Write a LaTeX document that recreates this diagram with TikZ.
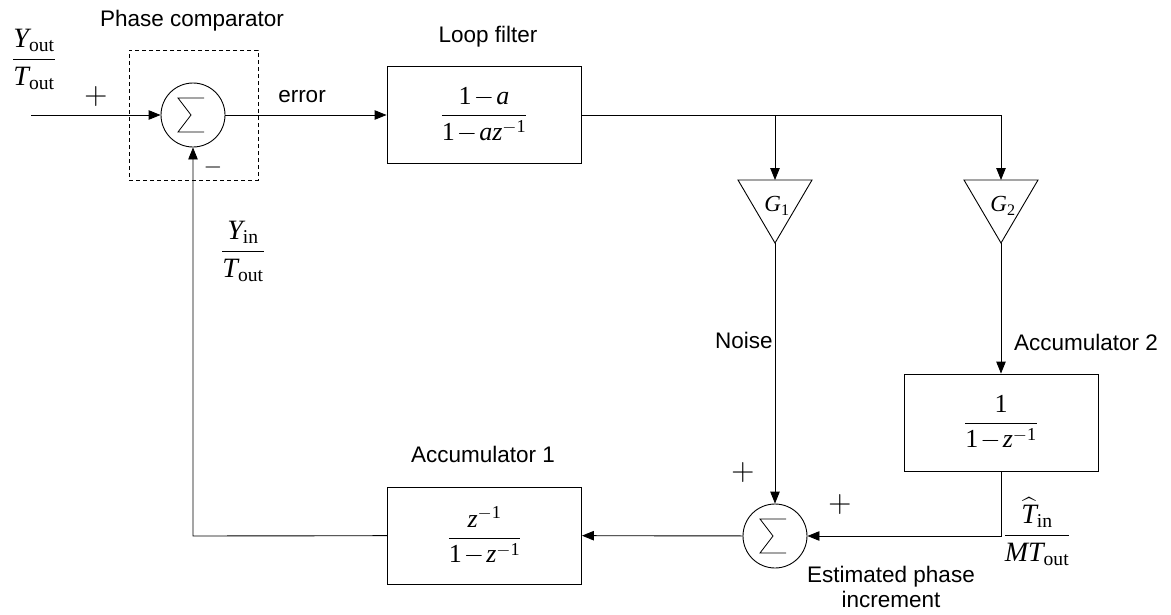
\RequirePackage{fix-cm}
\documentclass[tikz,border=0pt]{standalone}
\usepackage{fontspec}
\usepackage{amsmath}
\setmainfont{Liberation Sans}
\newfontfamily\tmr{Liberation Serif}
\newcommand\vi[1]{\text{\tmr\itshape #1}}
\newcommand\vr[1]{\text{\tmr #1}}
\newcommand\tightbin{\medmuskip=1.5mu\relax}
\usetikzlibrary{arrows.meta,calc}
\tikzset{
  wire/.style={line width=0.9pt},
  conn/.style={wire, -{Triangle[length=12pt,width=9.5pt]}},
  blk/.style={draw, line width=0.9pt, minimum width=194pt, minimum height=97pt, inner sep=0pt,
    font=\fontsize{26}{30}\selectfont\tightbin},
  sumnode/.style={draw, circle, line width=0.9pt, minimum size=64pt, inner sep=0pt,
    path picture={\draw[line width=0.8pt]
      ([shift={(11pt,17pt)}]path picture bounding box.center) --
      ([shift={(-15pt,17pt)}]path picture bounding box.center) --
      ([shift={(-2pt,0pt)}]path picture bounding box.center) --
      ([shift={(-15pt,-17pt)}]path picture bounding box.center) --
      ([shift={(11pt,-17pt)}]path picture bounding box.center);}},
  lbl/.style={font=\fontsize{22.5}{25}\selectfont, inner sep=0pt},
  mth/.style={font=\fontsize{28}{32}\selectfont, inner sep=0pt, anchor=base},
  gain/.style={font=\fontsize{23}{26}\selectfont, inner sep=0pt},
  sgn/.style={font=\fontsize{32}{32}\selectfont, inner sep=0pt},
}
\begin{document}
\begin{tikzpicture}[x=1pt,y=-1pt]
\useasboundingbox[fill=white] (0,0) rectangle (1171,614);

% summing junctions and the phase comparator frame
\node[sumnode] (s1) at (193,115) {};
\node[draw, line width=0.8pt, dash pattern=on 4pt off 3pt, minimum width=129pt, minimum height=130pt, inner sep=0pt] (pc) at (193.5,115) {};
\node[sumnode] (s2) at (775,536) {};

% transfer-function blocks
\node[blk] (lf) at (484,115) {$\dfrac{\vr{1}-\vi{a}}{\vr{1}-\vi{az}^{-\vr{1}}}$};
\node[blk] (a1) at (484.5,535.5) {$\dfrac{\vi{z}^{-\vr{1}}}{\vr{1}-\vi{z}^{-\vr{1}}}$};
\node[blk] (a2) at (1001,422.5) {$\dfrac{\vr{1}}{\vr{1}-\vi{z}^{-\vr{1}}}$};

% gain triangles
\coordinate (g1top) at (775,180);
\coordinate (g1tip) at (775,243);
\coordinate (g2top) at (1001,180);
\coordinate (g2tip) at (1001,243);
\draw[wire] (738,180) -- (812,180) -- (g1tip) -- cycle;
\draw[wire] (964,180) -- (1038,180) -- (g2tip) -- cycle;
\node[gain] (g1) at (777,206) {$\vi{G}_{\vr{1}}$};
\node[gain] (g2) at (1003,206) {$\vi{G}_{\vr{2}}$};

% corner points of the wiring
\coordinate (in) at (31,115);
\coordinate (j1) at (775,115);
\coordinate (j2) at (1001,115);
\coordinate (j3) at (1001,536);
\coordinate (j4) at (193,536);

% connectors
\draw[conn] (in) -- (s1);
\draw[conn] (s1) -- (lf);
\draw[wire] (lf.east) -- (j2);
\draw[conn] (j2) -- (g2top);
\draw[conn] (j1) -- (g1top);
\draw[conn] (g1tip) -- (s2);
\draw[conn] (g2tip) -- (a2);
\draw[conn] (a2) -- (j3) -- (s2);
\draw[conn] (s2) -- (a1);
\draw[conn] (a1) -- (j4) -- (s1);

% text labels
\node[lbl, anchor=base] (tpc) at (192,26) {Phase comparator};
\node[lbl, anchor=base] (tlf) at (488,42) {Loop filter};
\node[lbl, anchor=base] (terr) at (302,102) {error};
\node[lbl, anchor=base] (tn) at (744,348) {Noise};
\node[lbl, anchor=base west] (ta2) at (1014,350) {Accumulator 2};
\node[lbl, anchor=base] (ta1) at (483,462) {Accumulator 1};
\node[lbl, anchor=base] (tep1) at (891,582) {Estimated phase};
\node[lbl, anchor=base] (tep2) at (891,607) {increment};

% signal fractions (base placed so the rule sits on the wanted line)
\node[mth] (fyout) at (34,66) {$\dfrac{\vi{Y}_{\vr{out}}}{\vi{T}_{\vr{out}}}$};
\node[mth] (fyin) at (243,258) {$\dfrac{\vi{Y}_{\vr{in}}}{\vi{T}_{\vr{out}}}$};
\node[mth] (fth) at (1037,542) {$\dfrac{\widehat{\vi{T}}_{\vr{in}}}{\vi{MT}_{\vr{out}}}$};

% signs at the summing inputs
\node[sgn] (p1) at (96,96) {$+$};
\node[font=\fontsize{24}{24}\selectfont, inner sep=0pt] (m1) at (213,167) {$-$};
\node[sgn] (p2) at (743,472) {$+$};
\node[sgn] (p3) at (840,504) {$+$};
\end{tikzpicture}
\end{document}
